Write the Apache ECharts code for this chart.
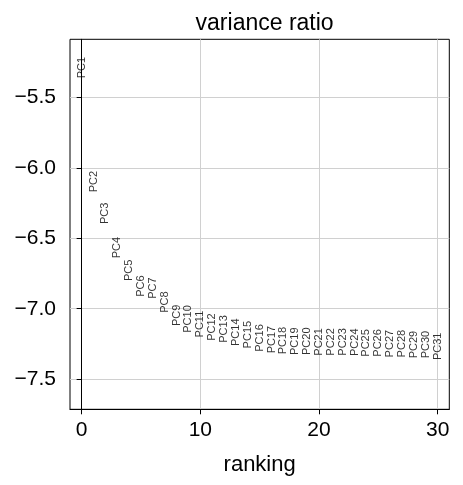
<!DOCTYPE html>
<html>
<head>
<meta charset="utf-8">
<script src="https://cdn.jsdelivr.net/npm/echarts@6/dist/echarts.min.js"></script>
<style>
  html, body { margin: 0; padding: 0; background: #fff; }
  #chart { width: 463px; height: 485px; }
</style>
</head>
<body>
<div id="chart"></div>
<script>
// PC labels and their (log) variance ratio
var pcNames = ["PC1", "PC2", "PC3", "PC4", "PC5", "PC6", "PC7", "PC8", "PC9", "PC10",
  "PC11", "PC12", "PC13", "PC14", "PC15", "PC16", "PC17", "PC18", "PC19", "PC20",
  "PC21", "PC22", "PC23", "PC24", "PC25", "PC26", "PC27", "PC28", "PC29", "PC30", "PC31"];
var ranking = [0, 1, 2, 3, 4, 5, 6, 7, 8, 9, 10, 11, 12, 13, 14, 15, 16, 17, 18, 19,
  20, 21, 22, 23, 24, 25, 26, 27, 28, 29, 30];
var varianceRatio = [-5.362, -6.173, -6.398, -6.642, -6.803, -6.915, -6.929, -7.029, -7.123, -7.171,
  -7.204, -7.228, -7.242, -7.265, -7.282, -7.306, -7.317, -7.324, -7.329, -7.329,
  -7.334, -7.334, -7.334, -7.336, -7.341, -7.341, -7.346, -7.346, -7.353, -7.353, -7.365];
var xTicks = [0, 10, 20, 30];
var yTicks = [-7.5, -7.0, -6.5, -6.0, -5.5];

var FONT = "Liberation Sans";
var pts = ranking.map(function (r, i) {
  return { name: pcNames[i], value: [r, varianceRatio[i]] };
});

var myChart = echarts.init(document.getElementById("chart"));
myChart.setOption({
  animation: false,
  backgroundColor: "#fff",
  title: {
    text: "variance ratio",
    left: 259.6,
    top: 7,
    textAlign: "center",
    textStyle: { fontFamily: FONT, fontSize: 23, fontWeight: "normal", color: "#000" }
  },
  grid: {
    left: 70, top: 39.3, right: 13.7, bottom: 75.7,
    show: true, borderColor: "#000", borderWidth: 1
  },
  xAxis: {
    type: "value",
    min: -0.98, max: 30.98,
    name: "ranking",
    nameLocation: "middle",
    nameGap: 45,
    nameTextStyle: { fontFamily: FONT, fontSize: 22, color: "#000" },
    axisLine: { show: true, lineStyle: { color: "#000", width: 1 } },
    axisTick: { show: true, length: 5, lineStyle: { color: "#000" }, customValues: xTicks },
    axisLabel: {
      fontFamily: FONT, fontSize: 21, color: "#000", margin: 10,
      customValues: xTicks
    },
    splitLine: { show: true, lineStyle: { color: "#d0d0d0", width: 1 } }
  },
  yAxis: {
    type: "value",
    min: -7.715, max: -5.085,
    axisLine: { show: true, lineStyle: { color: "#000", width: 1 } },
    axisTick: { show: true, length: 5, lineStyle: { color: "#000" }, customValues: yTicks },
    axisLabel: {
      fontFamily: FONT, fontSize: 21, color: "#000", margin: 14,
      customValues: yTicks,
      formatter: function (v) { return v.toFixed(1).replace("-", "\u2212"); }
    },
    splitLine: { show: true, lineStyle: { color: "#d0d0d0", width: 1 } }
  },
  series: [{
    type: "scatter",
    data: pts,
    symbolSize: 1,
    itemStyle: { color: "rgba(0,0,0,0)" },
    label: {
      show: true,
      position: "inside",
      rotate: 90,
      align: "left",
      verticalAlign: "middle",
      fontFamily: FONT,
      fontSize: 11,
      color: "#000",
      formatter: function (p) { return p.name; }
    }
  }]
});
</script>
</body>
</html>
